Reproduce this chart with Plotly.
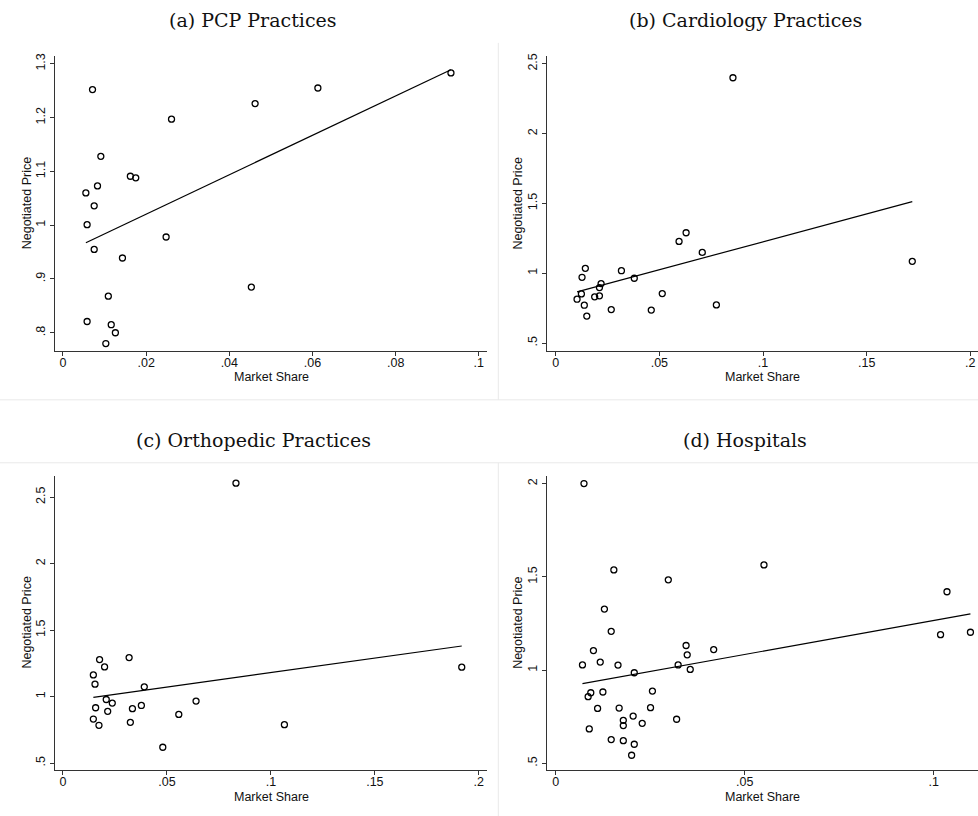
import numpy as np
import plotly.graph_objects as go

W, H = 978, 816

# ---------------- data ----------------
titles = ["(a) PCP Practices", "(b) Cardiology Practices",
          "(c) Orthopedic Practices", "(d) Hospitals"]

pcp_share = [0.0071, 0.0613, 0.0462, 0.0933, 0.0261, 0.0091, 0.0162, 0.0175,
             0.0083, 0.0055, 0.0075, 0.0058, 0.0248, 0.0075, 0.0143, 0.0453,
             0.0109, 0.0058, 0.0116, 0.0126, 0.0103]
pcp_price = [1.252, 1.255, 1.226, 1.283, 1.197, 1.128, 1.091, 1.088,
             1.073, 1.060, 1.036, 1.001, 0.978, 0.955, 0.939, 0.885,
             0.868, 0.821, 0.815, 0.800, 0.780]

card_share = [0.0855, 0.1720, 0.0629, 0.0595, 0.0707, 0.0317, 0.0379, 0.0143,
              0.0127, 0.0219, 0.0211, 0.0124, 0.0188, 0.0211, 0.0103, 0.0138,
              0.0150, 0.0268, 0.0461, 0.0514, 0.0775]
card_price = [2.400, 1.085, 1.290, 1.228, 1.149, 1.018, 0.964, 1.035,
              0.971, 0.926, 0.897, 0.852, 0.831, 0.838, 0.814, 0.771,
              0.693, 0.740, 0.736, 0.854, 0.773]

orth_share = [0.0832, 0.1918, 0.0318, 0.0176, 0.0200, 0.0146, 0.0154, 0.0391,
              0.0208, 0.0237, 0.0640, 0.0157, 0.0334, 0.0377, 0.0215, 0.0557,
              0.0146, 0.0324, 0.0173, 0.1065, 0.0480]
orth_price = [2.605, 1.222, 1.294, 1.279, 1.224, 1.164, 1.094, 1.074,
              0.979, 0.952, 0.967, 0.917, 0.910, 0.934, 0.890, 0.867,
              0.832, 0.807, 0.785, 0.790, 0.620]

hosp_share = [0.0075, 0.0551, 0.0154, 0.0298, 0.1035, 0.0129, 0.0147, 0.1018,
              0.1097, 0.0100, 0.0418, 0.0345, 0.0348, 0.0118, 0.0071, 0.0165,
              0.0324, 0.0356, 0.0208, 0.0256, 0.0125, 0.0093, 0.0086, 0.0111,
              0.0168, 0.0251, 0.0205, 0.0179, 0.0179, 0.0229, 0.0320, 0.0089,
              0.0147, 0.0179, 0.0208, 0.0201]
hosp_price = [2.000, 1.564, 1.537, 1.484, 1.420, 1.327, 1.208, 1.190,
              1.203, 1.105, 1.110, 1.132, 1.082, 1.043, 1.028, 1.027,
              1.028, 1.004, 0.986, 0.888, 0.883, 0.879, 0.858, 0.795,
              0.797, 0.799, 0.754, 0.731, 0.703, 0.715, 0.737, 0.685,
              0.628, 0.622, 0.603, 0.544]

x_ticks = [[0, 0.02, 0.04, 0.06, 0.08, 0.1],
           [0, 0.05, 0.1, 0.15, 0.2],
           [0, 0.05, 0.1, 0.15, 0.2],
           [0, 0.05, 0.1]]
x_ticktext = [["0", ".02", ".04", ".06", ".08", ".1"],
              ["0", ".05", ".1", ".15", ".2"],
              ["0", ".05", ".1", ".15", ".2"],
              ["0", ".05", ".1"]]
y_ticks = [[0.8, 0.9, 1.0, 1.1, 1.2, 1.3],
           [0.5, 1.0, 1.5, 2.0, 2.5],
           [0.5, 1.0, 1.5, 2.0, 2.5],
           [0.5, 1.0, 1.5, 2.0]]
y_ticktext = [[".8", ".9", "1", "1.1", "1.2", "1.3"],
              [".5", "1", "1.5", "2", "2.5"],
              [".5", "1", "1.5", "2", "2.5"],
              [".5", "1", "1.5", "2"]]

x_label = "Market Share"
y_label = "Negotiated Price"

series = [(pcp_share, pcp_price), (card_share, card_price),
          (orth_share, orth_price), (hosp_share, hosp_price)]

# ---------------- layout geometry (pixels) ----------------
# plot areas: (left, right, top, bottom)
boxes = [(55.3, 486.7, 53.3, 349.3),
         (547.3, 978.0, 53.3, 349.3),
         (55.3, 486.7, 474.3, 770.0),
         (547.3, 978.0, 474.3, 770.0)]
x_ranges = [[-0.00185, 0.1019], [-0.00405, 0.2037], [-0.0037, 0.2038], [-0.0022, 0.1117]]
y_ranges = [[0.7661, 1.3143], [0.443, 2.555], [0.4476, 2.6625], [0.464, 2.0427]]
title_pos = [(253, 17), (745, 17), (253, 438.3), (745, 438.3)]
xlab_y = [375.5, 375.5, 797, 797]
ylab_x = [26.7, 518, 26.7, 518]


def px(x):
    return x / W


def py(y):
    return 1 - y / H


fig = go.Figure()

tick_font = dict(family="Liberation Sans, Arial, sans-serif", size=12.5, color="#111")

for i, (xs, ys) in enumerate(series):
    n = i + 1
    xa = "x" if n == 1 else f"x{n}"
    ya = "y" if n == 1 else f"y{n}"
    xs_a = np.asarray(xs)
    ys_a = np.asarray(ys)
    fig.add_trace(go.Scatter(
        x=xs, y=ys, mode="markers", xaxis=xa, yaxis=ya,
        marker=dict(symbol="circle-open", size=6, color="black",
                    line=dict(width=1.3, color="black")),
        showlegend=False, hoverinfo="x+y"))
    slope, icpt = np.polyfit(xs_a, ys_a, 1)
    lx = np.array([xs_a.min(), xs_a.max()])
    fig.add_trace(go.Scatter(
        x=lx, y=icpt + slope * lx, mode="lines", xaxis=xa, yaxis=ya,
        line=dict(color="black", width=1.2), showlegend=False,
        hoverinfo="skip"))

    l, r, t, b = boxes[i]
    axis_common = dict(showline=True, linecolor="#333", linewidth=1.3,
                       ticks="outside", ticklen=4, tickwidth=1,
                       tickcolor="#333", showgrid=False, zeroline=False,
                       tickfont=tick_font, fixedrange=True)
    fig.layout[f"xaxis{'' if n == 1 else n}"] = dict(
        domain=[px(l), px(r)], anchor=ya, range=x_ranges[i],
        tickmode="array", tickvals=x_ticks[i], ticktext=x_ticktext[i],
        ticklabelstandoff=-4, **axis_common)
    fig.layout[f"yaxis{'' if n == 1 else n}"] = dict(
        domain=[py(b), py(t)], anchor=xa, range=y_ranges[i],
        tickmode="array", tickvals=y_ticks[i], ticktext=y_ticktext[i],
        tickangle=-90, **axis_common)

    # panel title
    tx, ty = title_pos[i]
    fig.add_annotation(text=titles[i], x=px(tx), y=py(ty), xref="paper",
                       yref="paper", showarrow=False, xanchor="center",
                       yanchor="middle",
                       font=dict(family="DejaVu Serif, serif", size=19,
                                 color="#111"))
    # axis labels
    fig.add_annotation(text=x_label, x=px((l + r) / 2), y=py(xlab_y[i]),
                       xref="paper", yref="paper", showarrow=False,
                       xanchor="center", yanchor="middle", font=tick_font)
    fig.add_annotation(text=y_label, x=px(ylab_x[i]), y=py((t + b) / 2),
                       xref="paper", yref="paper", showarrow=False,
                       xanchor="center", yanchor="middle", textangle=-90,
                       font=tick_font)

# light panel separators
sep = dict(type="line", xref="paper", yref="paper",
           line=dict(color="#e9e9e9", width=1), layer="below")
fig.add_shape(x0=0, x1=1, y0=py(398.3), y1=py(398.3), **sep)
fig.add_shape(x0=0, x1=1, y0=py(461.5), y1=py(461.5), **sep)
fig.add_shape(x0=px(498.3), x1=px(498.3), y0=py(40), y1=py(398.3), **sep)
fig.add_shape(x0=px(498.3), x1=px(498.3), y0=py(461.5), y1=0, **sep)

fig.update_layout(width=W, height=H, margin=dict(l=0, r=0, t=0, b=0),
                  paper_bgcolor="white", plot_bgcolor="white",
                  showlegend=False)

fig.write_html("out.html")
